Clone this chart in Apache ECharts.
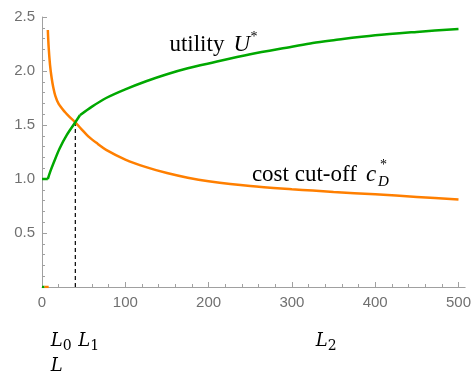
<!DOCTYPE html>
<html>
<head>
<meta charset="utf-8">
<script src="https://cdn.jsdelivr.net/npm/echarts@6/dist/echarts.min.js"></script>
<style>html,body{margin:0;padding:0;background:#fff}#c{width:474px;height:380px}</style>
</head>
<body>
<div id="c"></div>
<script>
// ---- data ----
var uRiseX = [7, 10, 14, 21, 30, 40, 45.5];
var uRiseY = [1.0, 1.07, 1.15, 1.28, 1.41, 1.525, 1.59];
var uX = [45.5, 60, 77, 100, 125, 150, 175, 200, 250, 300, 325, 350, 400, 450, 500];
var uY = [1.59, 1.67, 1.75, 1.83, 1.905, 1.97, 2.025, 2.07, 2.155, 2.225, 2.26, 2.285, 2.33, 2.362, 2.39];
var uFlatX = [0, 7];
var uFlatY = [1.0, 1.0];
var uZeroX = [0, 3];
var uZeroY = [0, 0];
var cX = [7, 8, 9.6, 11.5, 13.5, 16, 20, 27.5, 33, 40, 47, 57, 67, 77, 100, 125, 150, 175, 200, 250, 300, 325, 350, 400, 450, 500];
var cY = [2.38, 2.22, 2.06, 1.94, 1.85, 1.77, 1.695, 1.62, 1.575, 1.525, 1.465, 1.385, 1.325, 1.27, 1.18, 1.11, 1.055, 1.012, 0.98, 0.935, 0.905, 0.893, 0.88, 0.858, 0.834, 0.81];
var cZeroX = [3, 8];
var cZeroY = [0, 0];
var L0 = 7, L1 = 40, L2 = 325;
var crossY = 1.525;
var xMajor = [0, 100, 200, 300, 400, 500];
var xMinor = [20, 40, 60, 80, 120, 140, 160, 180, 220, 240, 260, 280, 320, 340, 360, 380, 420, 440, 460, 480];
var xMin = 0, xMax = 508;
var yMin = 0, yMax = 2.5, yStep = 0.5;

function zip(a, b) { return a.map(function (v, i) { return [v, b[i]]; }); }

var GREEN = '#00a800', ORANGE = '#ff7f00', AX = '#a0a0a0', LAB = '#707070';
var chart = echarts.init(document.getElementById('c'), null, {renderer: 'canvas'});
var lineBase = {type: 'line', showSymbol: false, symbol: 'none', animation: false, silent: true};
var smoothed = {smooth: 0.3};
chart.setOption({
  animation: false,
  grid: {left: 42, right: 7, top: 17, bottom: 93, containLabel: false},
  xAxis: [{
    type: 'value', min: xMin, max: xMax, position: 'bottom',
    axisLine: {show: true, lineStyle: {color: AX, width: 1}},
    axisTick: {show: true, inside: true, length: 5, lineStyle: {color: AX}, customValues: xMajor},
    axisLabel: {show: true, color: LAB, fontFamily: 'Liberation Sans', fontSize: 15, margin: 8, customValues: xMajor},
    splitLine: {show: false}
  }, {
    type: 'value', min: xMin, max: xMax, position: 'bottom',
    axisLine: {show: false},
    axisTick: {show: true, inside: true, length: 3, lineStyle: {color: AX}, customValues: xMinor},
    axisLabel: {show: false},
    splitLine: {show: false}
  }],
  yAxis: {
    type: 'value', min: yMin, max: yMax, interval: yStep,
    axisLine: {show: true, lineStyle: {color: AX, width: 1}},
    axisTick: {show: true, inside: true, length: 5, lineStyle: {color: AX}},
    minorTick: {show: true, splitNumber: 5, length: 3, lineStyle: {color: AX}},
    axisLabel: {color: LAB, fontFamily: 'Liberation Sans', fontSize: 15, margin: 7,
      formatter: function (v) { return v === 0 ? '' : v.toFixed(1); }},
    splitLine: {show: false}
  },
  series: [
    Object.assign({}, lineBase, {data: [[L1, 0], [L1, crossY]], lineStyle: {color: '#000', width: 1.2, type: [4, 3]}}),
    Object.assign({}, lineBase, {data: zip(uZeroX, uZeroY), lineStyle: {color: GREEN, width: 2.5}}),
    Object.assign({}, lineBase, {data: zip(cZeroX, cZeroY), lineStyle: {color: ORANGE, width: 2.5}}),
    Object.assign({}, lineBase, smoothed, {data: zip(cX, cY), lineStyle: {color: ORANGE, width: 2.5}}),
    Object.assign({}, lineBase, {data: zip(uFlatX, uFlatY), lineStyle: {color: GREEN, width: 2.5}}),
    Object.assign({}, lineBase, smoothed, {data: zip(uRiseX, uRiseY), lineStyle: {color: GREEN, width: 2.5}}),
    Object.assign({}, lineBase, smoothed, {data: zip(uX, uY), lineStyle: {color: GREEN, width: 2.5}})
  ]
});

// ---- annotations placed through the chart's own scales ----
function px(x, y) { return chart.convertToPixel({gridIndex: 0}, [x, y]); }
var SERIF = 'Liberation Serif', MATH = 'DejaVu Serif';
function txt(x, y, s, size, fam, italic, color) {
  return {type: 'text', x: x, y: y, silent: true,
    style: {text: s, fontSize: size, fontFamily: fam, fontStyle: italic ? 'italic' : 'normal',
      fill: color || '#000', align: 'left', verticalAlign: 'middle'}};
}
var els = [];
var a = px(153, 2.173); // "utility U*"  baseline anchor
els.push(txt(a[0], a[1] - 7.5, 'utility', 23, SERIF, false));
els.push(txt(a[0] + 64, a[1] - 7.5, 'U', 23, SERIF, true));
els.push(txt(a[0] + 81, a[1] - 15, '*', 14, SERIF, false));
var b = px(252, 0.966); // "cost cut-off c_D*"
els.push(txt(b[0], b[1] - 7.5, 'cost cut-off', 23, SERIF, false));
els.push(txt(b[0] + 114, b[1] - 7.5, 'c', 23, SERIF, true));
els.push(txt(b[0] + 126, b[1] - 1, 'D', 15, SERIF, true));
els.push(txt(b[0] + 128, b[1] - 17, '*', 14, SERIF, false));
var zero = px(0, 0)[1];
var row1 = zero + 60, row2 = zero + 85;
[[L0, '0'], [L1, '1'], [L2, '2']].forEach(function (p) {
  var x = px(p[0], 0)[0] + 3;
  els.push(txt(x, row1 - 6, 'L', 18, MATH, true));
  els.push(txt(x + 12, row1 - 1, p[1], 14, MATH, false));
});
els.push(txt(px(L0, 0)[0] + 3, row2 - 6, 'L', 18, MATH, true));
chart.setOption({graphic: {elements: els}});
</script>
</body>
</html>
